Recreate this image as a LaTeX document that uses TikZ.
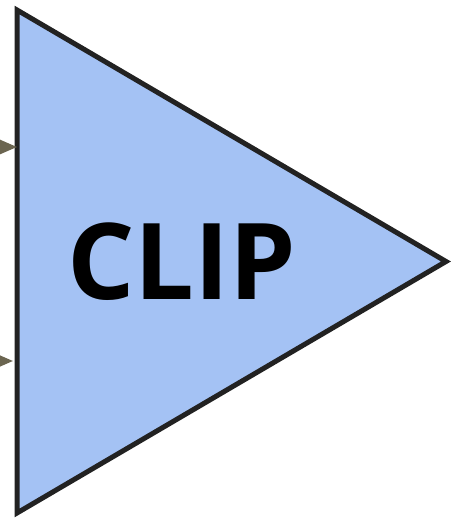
\documentclass[tikz,border=0pt]{standalone}
\usepackage{fontspec}
\setsansfont{Open Sans}
\usepackage{xcolor}
\usetikzlibrary{arrows.meta, positioning, calc}
\definecolor{gatefill}{HTML}{A4C2F4}
\definecolor{gateline}{HTML}{222222}
\definecolor{wirecol}{HTML}{6B6550}

\begin{document}
\begin{tikzpicture}[
    x=1pt, y=1pt,
    gate/.style={draw=gateline, fill=gatefill, line width=5pt, line join=miter},
    wire/.style={draw=wirecol, line width=3pt, -{Triangle[length=24pt, width=20pt]}}
]
    \useasboundingbox (0,0) rectangle (451,518);
    \clip (0,0) rectangle (451,518);

    % gate body
    \coordinate (top) at (17,508);
    \coordinate (bot) at (17,5);
    \coordinate (out) at (446,256.5);
    \path[gate] (top) -- (out) -- (bot) -- cycle;

    % inputs
    \coordinate (in1) at (17,371);
    \coordinate (in2) at (13,157);
    \coordinate (src1) at (-60,371);
    \coordinate (src2) at (-60,157);
    \draw[wire] (src1) -- (in1);
    \draw[wire] (src2) -- (in2);

    \node[font=\sffamily\bfseries\fontsize{106}{116}\selectfont, inner sep=0pt] (label) at (182,256) {CLIP};
\end{tikzpicture}
\end{document}
